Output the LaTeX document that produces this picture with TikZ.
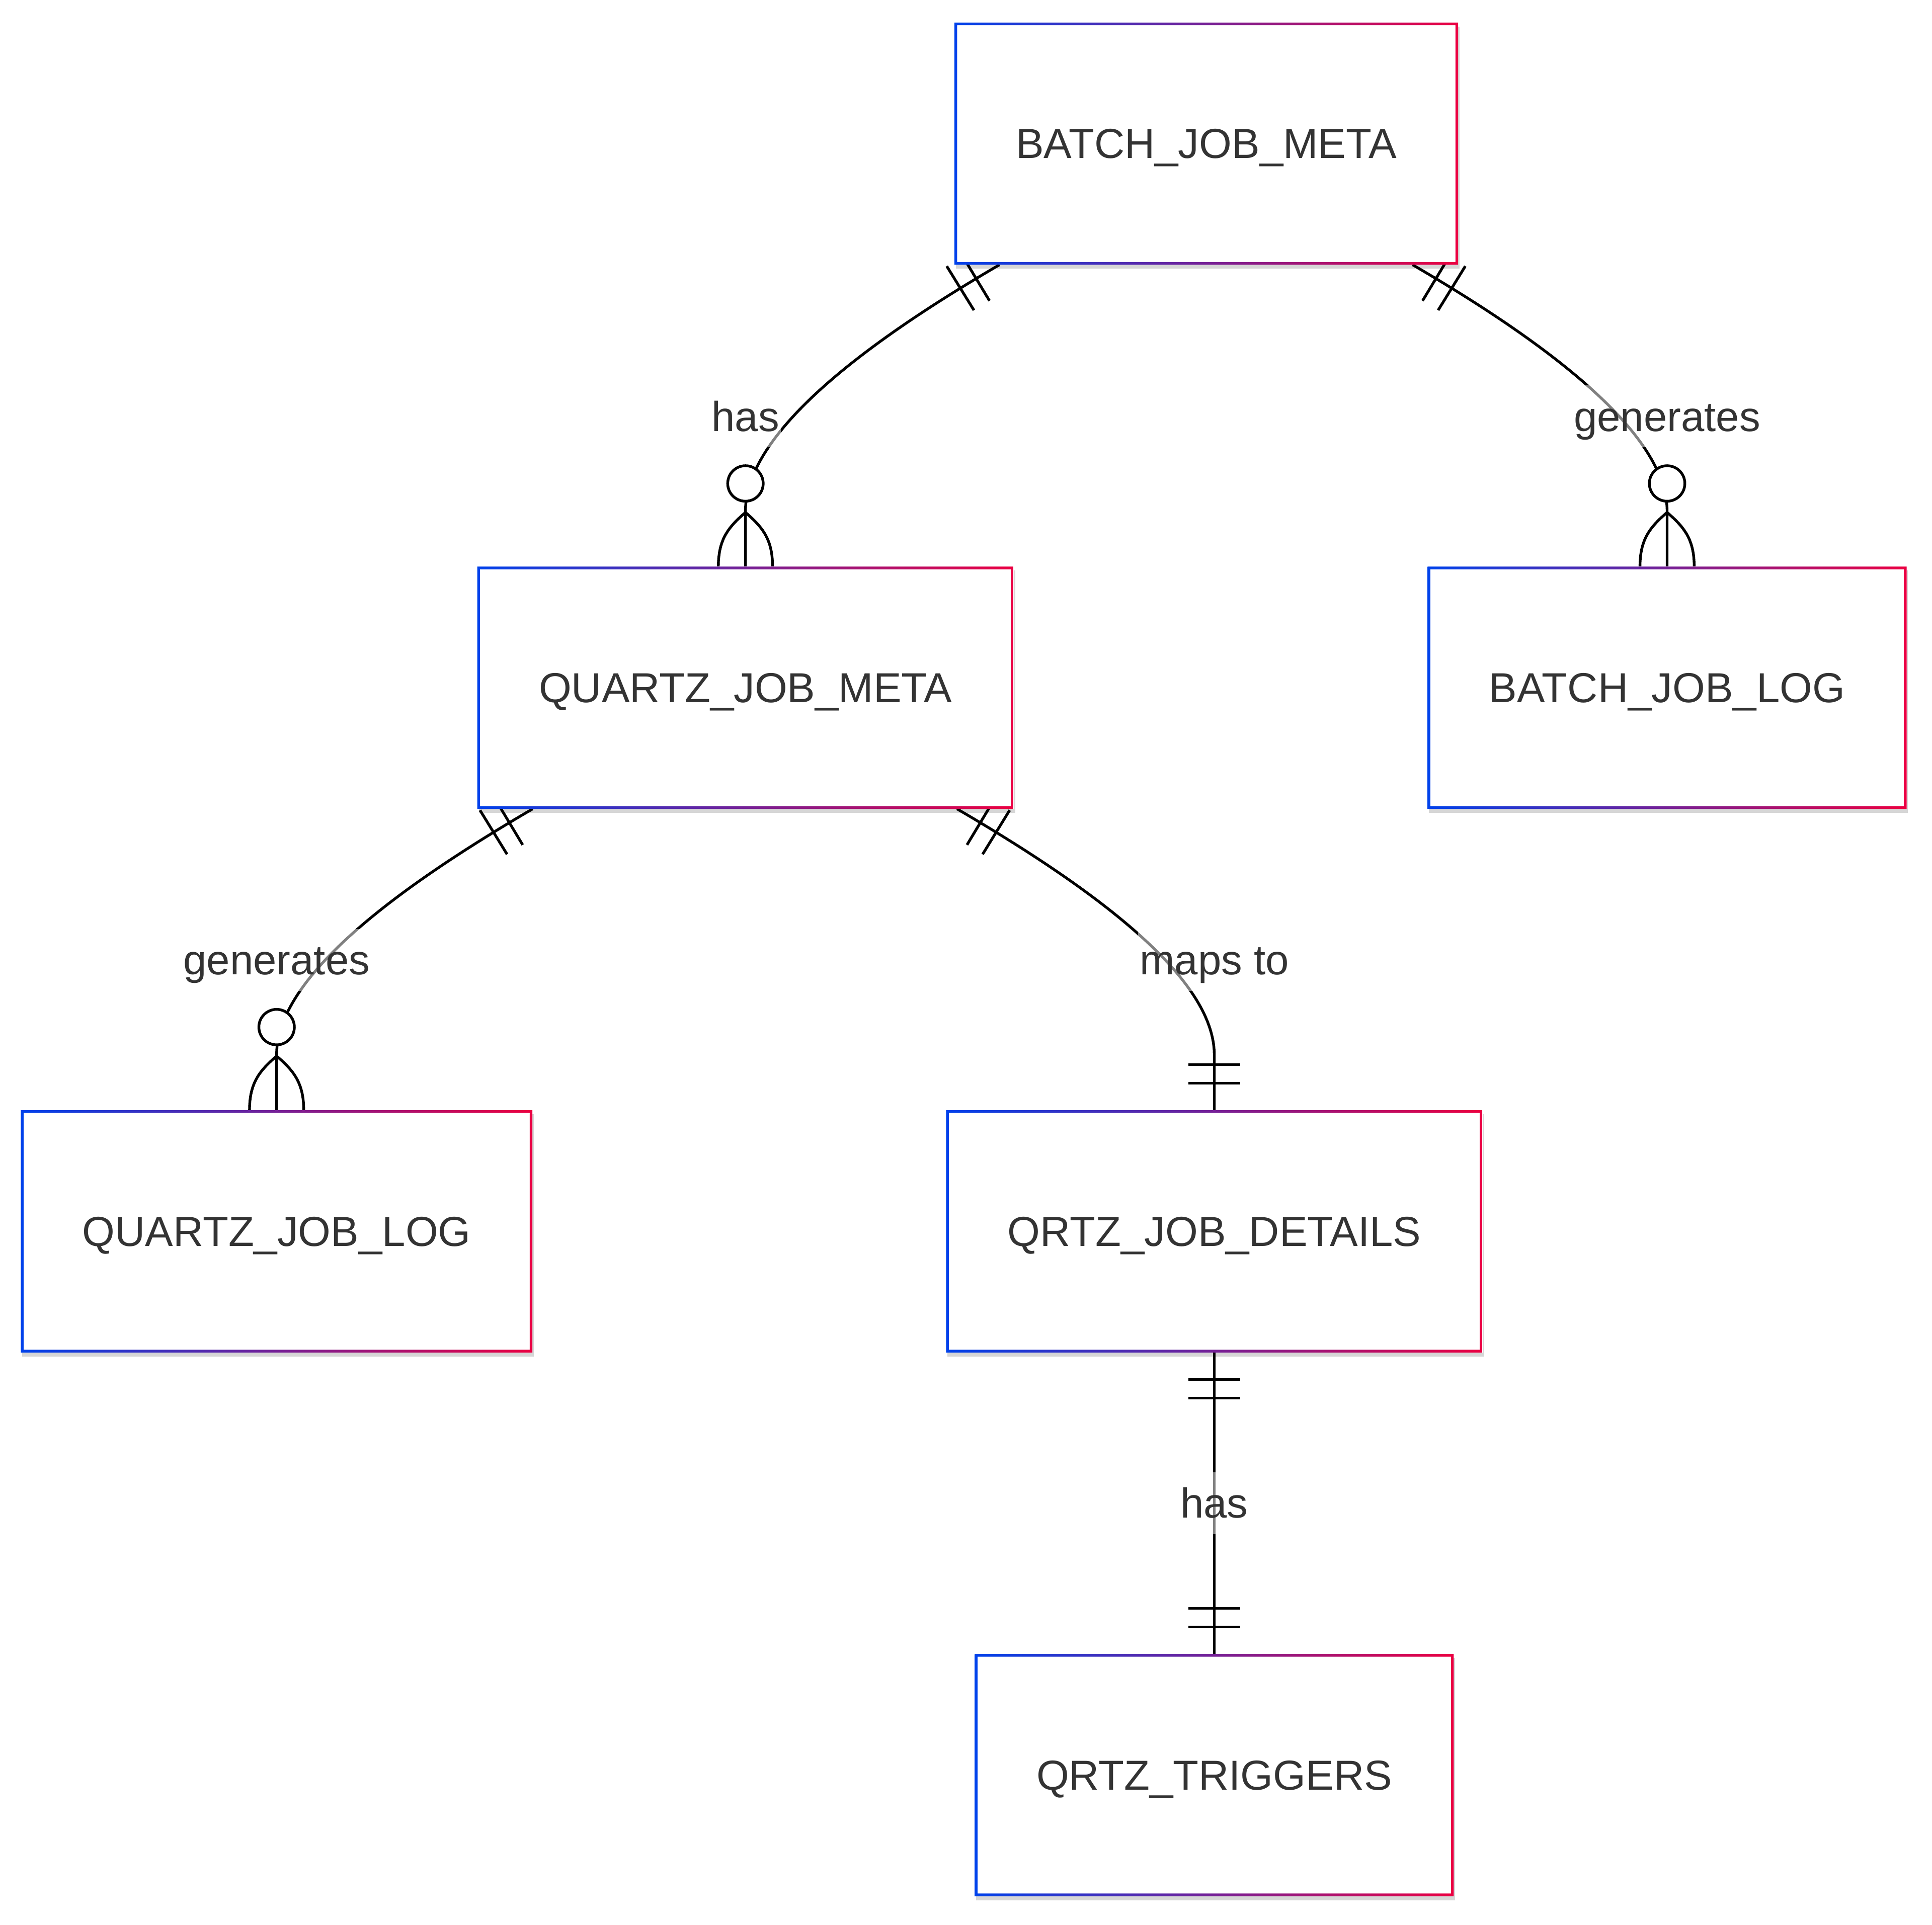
\documentclass[tikz,border=0pt]{standalone}
\usepackage{fontspec}
\setmainfont{Liberation Sans}
\usetikzlibrary{calc, shadows, decorations.markings}
\definecolor{erblue}{HTML}{0042EB}
\definecolor{erred}{HTML}{EB0042}
\definecolor{ertext}{HTML}{333333}
\pgfdeclarelayer{background}
\pgfsetlayers{background,main}

\begin{document}
\begin{tikzpicture}[x = 0.025cm, y = -0.025cm,
        entity/.style = {fill = white, inner xsep = 1.25cm, inner ysep = 0pt, outer sep = 0pt,
            minimum height = 4.915cm, text height = 0.8cm, text depth = 0.2cm, text = ertext,
            font = \fontsize{24.2}{29}\selectfont,
            drop shadow = {shadow xshift = 0.03cm, shadow yshift = -0.08cm, fill = black, opacity = 0.16}},
        frame/.style = {left color = erblue, right color = erred, even odd rule},
        rel/.style = {line width = 0.055cm, black},
        lbl/.style = {fill = white, fill opacity = 0.5, text opacity = 1, text = ertext,
            inner xsep = 0.03cm, inner ysep = 0pt, minimum height = 1.25cm,
            text height = 0.8cm, text depth = 0.2cm, font = \fontsize{24.2}{29}\selectfont},
        tick/.style = {line width = 0.055cm, black},
        onestart/.style = {postaction = {decorate, decoration = {markings,
            mark = at position 0.55cm with {\draw[tick] (0,-0.525cm) -- (0,0.525cm);},
            mark = at position 0.925cm with {\draw[tick] (0,-0.525cm) -- (0,0.525cm);}}}},
        oneend/.style = {postaction = {decorate, decoration = {markings,
            mark = at position -0.55cm with {\draw[tick] (0,-0.525cm) -- (0,0.525cm);},
            mark = at position -0.925cm with {\draw[tick] (0,-0.525cm) -- (0,0.525cm);}}}}]
    \useasboundingbox (0,0) rectangle (1568,1562.3);

    \node[entity] (bjm) at (979,116.6) {BATCH\_JOB\_META};
    \node[entity] (qjm) at (605,558.3) {QUARTZ\_JOB\_META};
    \node[entity] (bjl) at (1353,558.3) {BATCH\_JOB\_LOG};
    \node[entity] (qjl) at (224.5,999.6) {QUARTZ\_JOB\_LOG};
    \node[entity] (qjd) at (985.5,999.6) {QRTZ\_JOB\_DETAILS};
    \node[entity] (qt) at (985.5,1441) {QRTZ\_TRIGGERS};

    \shade[frame] (bjm.south west) rectangle (bjm.north east) ($(bjm.south west)+(2.2,-2.2)$) rectangle ($(bjm.north east)+(-2.2,2.2)$);
    \shade[frame] (qjm.south west) rectangle (qjm.north east) ($(qjm.south west)+(2.2,-2.2)$) rectangle ($(qjm.north east)+(-2.2,2.2)$);
    \shade[frame] (bjl.south west) rectangle (bjl.north east) ($(bjl.south west)+(2.2,-2.2)$) rectangle ($(bjl.north east)+(-2.2,2.2)$);
    \shade[frame] (qjl.south west) rectangle (qjl.north east) ($(qjl.south west)+(2.2,-2.2)$) rectangle ($(qjl.north east)+(-2.2,2.2)$);
    \shade[frame] (qjd.south west) rectangle (qjd.north east) ($(qjd.south west)+(2.2,-2.2)$) rectangle ($(qjd.north east)+(-2.2,2.2)$);
    \shade[frame] (qt.south west) rectangle (qt.north east) ($(qt.south west)+(2.2,-2.2)$) rectangle ($(qt.north east)+(-2.2,2.2)$);

    \begin{pgfonlayer}{background}
        \fill[white] (0,0) rectangle (1568,1562.3);

        % one to zero-or-many
        \draw[rel, onestart] ($(bjm.south west)+(36.6,0)$) .. controls +(-120,70) and +(0,-60) .. ($(qjm.north)+(0,-45)$) -- (qjm.north);
        \draw[rel, onestart] ($(bjm.south east)+(-37,0)$) .. controls +(120,70) and +(0,-60) .. ($(bjl.north)+(0,-45)$) -- (bjl.north);
        \draw[rel, onestart] ($(qjm.south west)+(45,0)$) .. controls +(-120,70) and +(0,-60) .. ($(qjl.north)+(0,-45)$) -- (qjl.north);

        \draw[rel, fill = white] ($(qjm.north)+(0,-67.5)$) circle[radius = 0.36cm];
        \draw[rel] ($(qjm.north)+(0,-44)$) .. controls +(-14,12) and +(0,-22) .. ($(qjm.north)+(-22,0)$);
        \draw[rel] ($(qjm.north)+(0,-44)$) .. controls +(14,12) and +(0,-22) .. ($(qjm.north)+(22,0)$);

        \draw[rel, fill = white] ($(bjl.north)+(0,-67.5)$) circle[radius = 0.36cm];
        \draw[rel] ($(bjl.north)+(0,-44)$) .. controls +(-14,12) and +(0,-22) .. ($(bjl.north)+(-22,0)$);
        \draw[rel] ($(bjl.north)+(0,-44)$) .. controls +(14,12) and +(0,-22) .. ($(bjl.north)+(22,0)$);

        \draw[rel, fill = white] ($(qjl.north)+(0,-67.5)$) circle[radius = 0.36cm];
        \draw[rel] ($(qjl.north)+(0,-44)$) .. controls +(-14,12) and +(0,-22) .. ($(qjl.north)+(-22,0)$);
        \draw[rel] ($(qjl.north)+(0,-44)$) .. controls +(14,12) and +(0,-22) .. ($(qjl.north)+(22,0)$);

        % one to one
        \draw[rel, onestart, oneend] ($(qjm.south east)+(-46,0)$) .. controls +(120,70) and +(0,-60) .. ($(qjd.north)+(0,-45)$) -- (qjd.north);
        \draw[rel, onestart, oneend] (qjd.south) -- (qt.north);
    \end{pgfonlayer}

    \node[lbl] (has1) at ($(qjm.north)+(0,-122)$) {has};
    \node[lbl] (gen1) at ($(bjl.north)+(0,-122)$) {generates};
    \node[lbl] (gen2) at ($(qjl.north)+(0,-122)$) {generates};
    \node[lbl] (maps) at ($(qjd.north)+(0,-122)$) {maps to};
    \node[lbl] (has2) at ($(qjd.south)!0.5!(qt.north)$) {has};
\end{tikzpicture}
\end{document}
